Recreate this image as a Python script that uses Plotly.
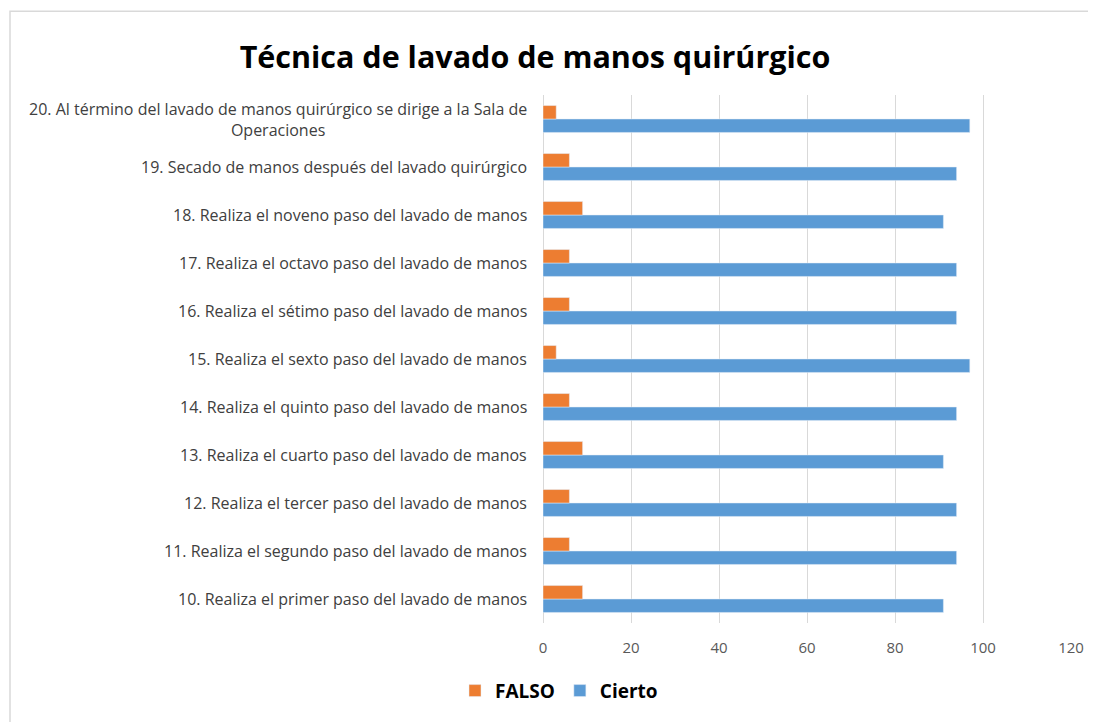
import plotly.graph_objects as go

categories = [
    "10. Realiza el primer paso del lavado de manos",
    "11. Realiza el segundo paso del lavado de manos",
    "12. Realiza el tercer paso del lavado de manos",
    "13. Realiza el cuarto paso del lavado de manos",
    "14. Realiza el quinto paso del lavado de manos",
    "15. Realiza el sexto paso del lavado de manos",
    "16. Realiza el sétimo paso del lavado de manos",
    "17. Realiza el octavo paso del lavado de manos",
    "18. Realiza el noveno paso del lavado de manos",
    "19. Secado de manos después del lavado quirúrgico",
    "20. Al término del lavado de manos quirúrgico se dirige a la Sala de<br>Operaciones",
]
falso = [9, 6, 6, 9, 6, 3, 6, 6, 9, 6, 3]
cierto = [91, 94, 94, 91, 94, 97, 94, 94, 91, 94, 97]
x_ticks = [0, 20, 40, 60, 80, 100, 120]

FONT = "'Open Sans', sans-serif"
OFF = 8  # page body margin
W, H = 1096 - OFF, 722 - OFF
L, R, T, B = 543 - OFF, 1071 - OFF, 95 - OFF, 625 - OFF


def px_x(p):
    return (p - OFF - L) / (R - L)


def px_y(p):
    return (B - (p - OFF)) / (B - T)


fig = go.Figure()
fig.add_trace(go.Bar(y=categories, x=cierto, name="Cierto", orientation="h",
                     marker=dict(color="#5B9BD5"), legendrank=2))
fig.add_trace(go.Bar(y=categories, x=falso, name="FALSO", orientation="h",
                     marker=dict(color="#ED7D31"), legendrank=1))

for c in categories:
    fig.add_annotation(x=0, y=c, xref="x", yref="y", text=c, showarrow=False,
                       xanchor="right", yanchor="middle", xshift=-14, align="center",
                       font=dict(family=FONT, size=16, color="#404040"))

# outer chart frame
fig.add_shape(type="rect", xref="paper", yref="paper",
              x0=px_x(10), x1=px_x(1120), y0=px_y(760), y1=px_y(11),
              line=dict(color="#d9d9d9", width=1.5), fillcolor="rgba(0,0,0,0)", layer="below")

fig.update_layout(
    width=W, height=H,
    margin=dict(l=L, r=W - R, t=T, b=H - B),
    paper_bgcolor="white", plot_bgcolor="white",
    barmode="group", bargap=0.44, bargroupgap=0,
    title=dict(text="<b>Técnica de lavado de manos quirúrgico</b>",
               x=(535 - OFF) / W, xanchor="center", y=1 - (57 - OFF) / H, yanchor="middle",
               xref="container", yref="container",
               font=dict(family=FONT, size=30.5, color="#000000")),
    legend=dict(orientation="h", x=px_x(559), xanchor="center",
                y=px_y(693), yanchor="middle",
                font=dict(family=FONT, size=19, color="#000000", weight="bold"),
                itemclick=False),
    xaxis=dict(range=[0, 120], tickvals=x_ticks, showgrid=True, gridcolor="#d9d9d9",
               gridwidth=1, zeroline=True, zerolinecolor="#d9d9d9", zerolinewidth=1,
               showline=False, ticks="", ticklabelstandoff=14,
               tickfont=dict(family=FONT, size=15, color="#595959")),
    yaxis=dict(type="category", showticklabels=False, showgrid=False, showline=False,
               ticks="", range=[-0.5, 10.5]),
    showlegend=True,
)

fig.write_html("out.html")
